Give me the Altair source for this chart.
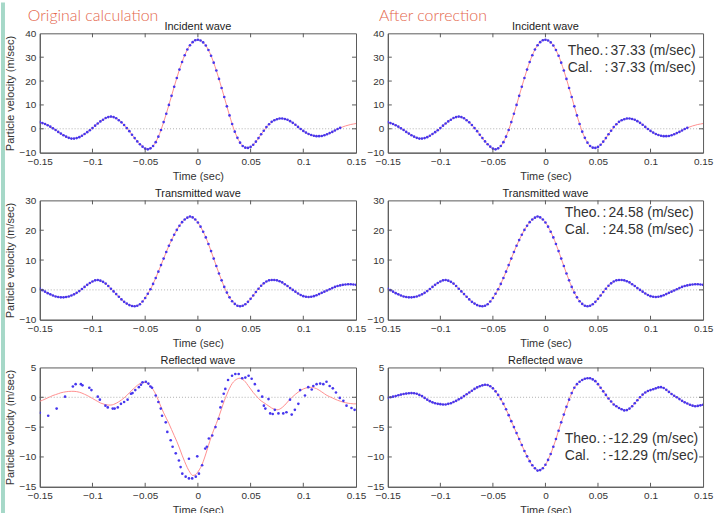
import altair as alt
import pandas as pd

# ---------------- data ----------------
TIME = [
    -0.15, -0.1475, -0.145, -0.1425, -0.14, -0.1375, -0.135, -0.1325, -0.13, -0.1275,
    -0.125, -0.1225, -0.12, -0.1175, -0.115, -0.1125, -0.11, -0.1075, -0.105, -0.1025,
    -0.1, -0.0975, -0.095, -0.0925, -0.09, -0.0875, -0.085, -0.0825, -0.08, -0.0775,
    -0.075, -0.0725, -0.07, -0.0675, -0.065, -0.0625, -0.06, -0.0575, -0.055, -0.0525,
    -0.05, -0.0475, -0.045, -0.0425, -0.04, -0.0375, -0.035, -0.0325, -0.03, -0.0275,
    -0.025, -0.0225, -0.02, -0.0175, -0.015, -0.0125, -0.01, -0.0075, -0.005, -0.0025,
    0.0, 0.0025, 0.005, 0.0075, 0.01, 0.0125, 0.015, 0.0175, 0.02, 0.0225,
    0.025, 0.0275, 0.03, 0.0325, 0.035, 0.0375, 0.04, 0.0425, 0.045, 0.0475,
    0.05, 0.0525, 0.055, 0.0575, 0.06, 0.0625, 0.065, 0.0675, 0.07, 0.0725,
    0.075, 0.0775, 0.08, 0.0825, 0.085, 0.0875, 0.09, 0.0925, 0.095, 0.0975,
    0.1, 0.1025, 0.105, 0.1075, 0.11, 0.1125, 0.115, 0.1175, 0.12, 0.1225,
    0.125, 0.1275, 0.13, 0.1325, 0.135, 0.1375, 0.14, 0.1425, 0.145, 0.1475,
    0.15,
]

INCIDENT = [
    2.8, 2.4, 2.0, 1.5, 0.9, 0.2, -0.5, -1.3, -2.0, -2.7,
    -3.3, -3.8, -4.1, -4.1, -3.9, -3.5, -2.9, -2.2, -1.4, -0.6,
    0.3, 1.3, 2.2, 3.1, 3.8, 4.5, 4.9, 5.1, 4.9, 4.4,
    3.6, 2.7, 1.6, 0.3, -1.0, -2.5, -3.9, -5.3, -6.5, -7.5,
    -8.3, -8.6, -8.2, -7.2, -5.6, -3.3, -0.5, 2.8, 6.3, 10.0,
    13.8, 17.6, 21.3, 24.8, 28.0, 30.8, 33.2, 35.0, 36.3, 37.1,
    37.33, 37.0, 36.2, 34.9, 33.0, 30.6, 27.7, 24.4, 20.9, 17.1,
    13.3, 9.4, 5.6, 2.0, -1.2, -3.8, -5.8, -7.2, -7.9, -8.0,
    -7.6, -6.7, -5.4, -3.9, -2.3, -0.8, 0.7, 1.9, 2.9, 3.6,
    4.0, 4.3, 4.3, 4.1, 3.8, 3.2, 2.5, 1.7, 0.8, -0.1,
    -0.9, -1.6, -2.2, -2.6, -2.9, -3.1, -3.1, -3.0, -2.7, -2.3,
    -1.8, -1.3, -0.7, -0.1, 0.4, 0.8, 1.2, 1.5, 1.8, 2.0,
    2.2,
]

TRANSMITTED = [
    0.4, -0.1, -0.6, -1.1, -1.5, -1.9, -2.2, -2.4, -2.5, -2.5,
    -2.4, -2.2, -1.9, -1.5, -1.0, -0.4, 0.3, 1.0, 1.7, 2.3,
    2.8, 3.2, 3.3, 3.1, 2.7, 2.1, 1.3, 0.4, -0.5, -1.4,
    -2.3, -3.2, -4.0, -4.6, -5.1, -5.4, -5.5, -5.3, -4.8, -3.9,
    -2.7, -1.3, 0.2, 2.0, 4.0, 6.1, 8.3, 10.5, 12.7, 14.8,
    16.7, 18.5, 20.1, 21.5, 22.7, 23.6, 24.2, 24.58, 24.3, 23.6,
    22.6, 21.2, 19.5, 17.6, 15.4, 13.0, 10.5, 8.0, 5.5, 3.2,
    1.0, -0.9, -2.5, -3.8, -4.7, -5.3, -5.5, -5.3, -4.8, -4.0,
    -3.0, -1.9, -0.7, 0.4, 1.4, 2.2, 2.8, 3.2, 3.3, 3.3,
    3.2, 2.9, 2.5, 1.9, 1.3, 0.6, 0.0, -0.6, -1.2, -1.7,
    -2.1, -2.3, -2.4, -2.3, -2.1, -1.8, -1.4, -1.0, -0.6, -0.2,
    0.2, 0.6, 1.0, 1.3, 1.5, 1.7, 1.8, 1.9, 1.9, 1.8,
    1.7,
]

REFLECTED_ORIG_THEO = [
    -0.67, -0.5, -0.3, -0.1, 0.1, 0.3, 0.45, 0.6, 0.75, 0.85,
    0.93, 0.98, 1.0, 1.0, 0.95, 0.85, 0.7, 0.5, 0.3, 0.05,
    -0.2, -0.45, -0.7, -0.95, -1.1, -1.25, -1.3, -1.3, -1.2, -1.0,
    -0.75, -0.45, -0.1, 0.3, 0.75, 1.2, 1.6, 2.0, 2.3, 2.45,
    2.5, 2.3, 1.9, 1.3, 0.5, -0.5, -1.6, -2.6, -3.5, -4.4,
    -5.4, -6.4, -7.4, -8.5, -9.7, -10.8, -11.8, -12.6, -13.1, -13.0,
    -12.5, -11.8, -10.8, -9.5, -8.1, -6.7, -5.5, -4.4, -3.2, -1.9,
    -0.6, 0.5, 1.5, 2.3, 2.8, 3.1, 3.2, 3.0, 2.6, 2.0,
    1.4, 0.8, 0.3, -0.2, -0.6, -0.9, -1.2, -1.5, -1.8, -2.0,
    -2.1, -2.0, -1.7, -1.3, -0.8, -0.3, 0.1, 0.5, 0.85, 1.15,
    1.4, 1.55, 1.65, 1.67, 1.6, 1.45, 1.2, 0.9, 0.6, 0.3,
    0.1, -0.1, -0.3, -0.5, -0.65, -0.8, -0.9, -1.0, -1.05, -1.1,
    -1.1,
]

REFLECTED_CORR_THEO = [
    -0.1, 0.0, 0.1, 0.2, 0.35, 0.45, 0.55, 0.62, 0.68, 0.7,
    0.68, 0.6, 0.4, 0.2, -0.1, -0.4, -0.65, -0.85, -1.0, -1.1,
    -1.15, -1.2, -1.2, -1.1, -1.0, -0.8, -0.6, -0.35, -0.1, 0.2,
    0.5, 0.8, 1.1, 1.4, 1.65, 1.85, 2.0, 2.1, 2.05, 1.85,
    1.5, 1.0, 0.4, -0.3, -1.1, -2.0, -3.0, -4.0, -5.0, -6.0,
    -7.0, -8.0, -9.0, -9.9, -10.7, -11.4, -11.9, -12.29, -12.2, -11.9,
    -11.3, -10.5, -9.5, -8.3, -7.0, -5.6, -4.2, -2.9, -1.6, -0.4,
    0.7, 1.6, 2.2, 2.6, 2.9, 3.1, 3.2, 3.2, 3.0, 2.7,
    2.2, 1.6, 1.0, 0.4, -0.2, -0.7, -1.2, -1.5, -1.8, -2.0,
    -2.2, -2.15, -1.9, -1.5, -1.0, -0.5, 0.0, 0.45, 0.8, 1.05,
    1.2, 1.35, 1.5, 1.65, 1.7, 1.55, 1.25, 0.9, 0.55, 0.25,
    0.0, -0.3, -0.6, -0.85, -1.05, -1.25, -1.4, -1.5, -1.45, -1.35,
    -1.25,
]

# original (uncorrected) calculation of the reflected wave: scattered dots
REFLECTED_ORIG_CAL_T = [
    -0.150, -0.142, -0.134, -0.126, -0.1186, -0.116, -0.111, -0.1095, -0.103, -0.101,
    -0.095, -0.093, -0.0877, -0.0855, -0.0808, -0.079, -0.076, -0.073, -0.070, -0.0667,
    -0.0635, -0.062, -0.0594, -0.056, -0.054, -0.0525, -0.0494, -0.047, -0.045, -0.0435,
    -0.040, -0.0375, -0.0352, -0.034, -0.0305, -0.029, -0.0258, -0.024, -0.021, -0.018,
    -0.0164, -0.0148, -0.0116, -0.0085, -0.0085, -0.0054, -0.002, -0.0006, 0.001, 0.004,
    0.007, 0.0085, 0.0104, 0.0136, 0.0167, 0.0198, 0.0214, 0.023, 0.0245, 0.026,
    0.0286, 0.0324, 0.0355, 0.0387, 0.042, 0.045, 0.0481, 0.051, 0.054, 0.0575,
    0.061, 0.0626, 0.064, 0.067, 0.0686, 0.071, 0.073, 0.0764, 0.081, 0.084,
    0.0874, 0.089, 0.092, 0.0953, 0.097, 0.1016, 0.1047, 0.108, 0.1095, 0.1126,
    0.116, 0.119, 0.122, 0.125, 0.128, 0.131, 0.1346, 0.138, 0.141, 0.1457,
    0.1487,
]
REFLECTED_ORIG_CAL_V = [
    -2.6, -3.1, -1.9, 0.1, 1.8, 2.2, 2.2, 2.0, 1.6, 1.2,
    0.1, -0.4, -1.4, -1.7, -1.9, -1.9, -1.7, -1.1, -0.8, -0.4,
    0.6, 0.7, 1.2, 1.7, 2.1, 2.5, 2.6, 2.3, 1.8, 1.6,
    0.3, -0.8, -1.9, -3.1, -4.2, -5.8, -7.2, -8.3, -9.4, -10.6,
    -11.7, -12.8, -13.3, -10.3, -13.6, -13.6, -13.3, -9.9, -12.8, -11.4,
    -8.6, -8.3, -6.9, -6.4, -5.0, -3.6, -1.7, -0.7, 0.6, 1.4,
    2.9, 3.6, 3.9, 3.9, 3.2, 3.3, 3.6, 3.1, 2.2, 1.1,
    0.1, -1.4, -1.9, -0.3, -2.7, -2.8, -2.1, -2.7, -2.7, -2.5,
    -0.4, -2.9, -2.1, -1.1, 1.2, 0.3, 1.7, 1.3, 1.9, 2.2,
    2.3, 2.2, 2.6, 1.9, 1.5, 0.8, -0.1, -0.6, -1.4, -1.8,
    -2.1,
]

X_TICKS = [-0.15, -0.1, -0.05, 0, 0.05, 0.1, 0.15]
X_INNER_TICKS = [-0.1, -0.05, 0, 0.05, 0.1]
Y_TICKS = [[-10, 0, 10, 20, 30, 40], [-10, 0, 10, 20, 30], [-15, -10, -5, 0, 5]]
Y_DOMAINS = [[-10, 40], [-10, 30], [-15, 5]]
PANEL_TITLES = ["Incident wave", "Transmitted wave", "Reflected wave"]
COLUMN_TITLES = ["Original calculation", "After correction"]
PEAK_VALUES = ["37.33", "24.58", "-12.29"]
ANNOT_LABELS = ["Theo.", "Cal."]

# ---------------- styling / layout ----------------
W_LEFT, W_RIGHT, H = 318, 317, 120
LINE_COLOR = "#ff8f8f"
DOT_COLOR = "#4636ee"
FRAME = "#5a5a5a"
TXT = "#333333"
FONT = "Liberation Sans"
HEAD_FONT = "Lato"
# annotation placement (pixels inside the plot area) per row:
# (x of label, x of colon, x of value, y of first line)
ANNOT_POS = [(181, 218, 224, 18), (178, 216, 222, 13), (178, 216, 222, 72)]
LINE_GAP = 17


def text_layer(txt, x, y, size, color, font, align="left", baseline="middle", weight="normal"):
    return alt.Chart(pd.DataFrame({"label": [txt]})).mark_text(
        align=align, baseline=baseline, fontSize=size, font=font, color=color,
        fontWeight=weight
    ).encode(x=alt.value(x), y=alt.value(y), text="label:N")


def panel(row, left, theo, cal_t, cal_v):
    w = W_LEFT if left else W_RIGHT
    xs = alt.Scale(domain=[-0.15, 0.15], nice=False, zero=False)
    ys = alt.Scale(domain=Y_DOMAINS[row], nice=False, zero=False)
    x_enc = alt.X("t:Q", scale=xs, axis=alt.Axis(
        values=X_TICKS, title="Time (sec)",
        labelExpr="format(datum.value, '~g')",
        labelFlush=False, labelOverlap=False))
    y_enc = alt.Y("v:Q", scale=ys, axis=alt.Axis(
        values=Y_TICKS[row],
        title="Particle velocity (m/sec)" if left else "",
        labelOverlap=False))

    theo_df = pd.DataFrame({"t": TIME, "v": theo})
    cal_df = pd.DataFrame({"t": cal_t, "v": cal_v})

    zero = alt.Chart(pd.DataFrame({"v": [0]})).mark_rule(
        color="#b0b0b0", strokeDash=[1, 2], strokeWidth=1
    ).encode(y=y_enc)

    line = alt.Chart(theo_df).mark_line(
        color=LINE_COLOR, strokeWidth=1, interpolate="monotone", clip=True
    ).encode(x=x_enc, y=y_enc)

    dots = alt.Chart(cal_df).mark_circle(
        color=DOT_COLOR, size=7, opacity=1, clip=True
    ).encode(x=x_enc, y=y_enc)

    xt = pd.DataFrame({"t": X_INNER_TICKS})
    yt = pd.DataFrame({"v": Y_TICKS[row][1:-1]})
    tick_b = alt.Chart(xt).mark_rule(color=FRAME, strokeWidth=1).encode(
        x=x_enc, y=alt.value(H), y2=alt.value(H - 4))
    tick_t = alt.Chart(xt).mark_rule(color=FRAME, strokeWidth=1).encode(
        x=x_enc, y=alt.value(0), y2=alt.value(4))
    tick_l = alt.Chart(yt).mark_rule(color=FRAME, strokeWidth=1).encode(
        y=y_enc, x=alt.value(0), x2=alt.value(4))
    tick_r = alt.Chart(yt).mark_rule(color=FRAME, strokeWidth=1).encode(
        y=y_enc, x=alt.value(w), x2=alt.value(w - 4))

    layers = [zero, line, dots, tick_b, tick_t, tick_l, tick_r]

    # panel title
    layers.append(text_layer(PANEL_TITLES[row], w / 2, -3, 11, "#222", FONT,
                             align="center", baseline="alphabetic"))

    if left:
        strip = alt.Chart(pd.DataFrame({"k": [0]})).mark_rect(
            color="#a6d8c8").encode(
            x=alt.value(-39), x2=alt.value(-35),
            y=alt.value(-31), y2=alt.value(H + 50))
        layers.append(strip)

    if row == 0:
        layers.append(text_layer(COLUMN_TITLES[0 if left else 1],
                                 -12 if left else -9, -17, 16, "#e4664c", HEAD_FONT,
                                 weight=300))

    if not left:
        xl, xc, xv, y0 = ANNOT_POS[row]
        for i, lab in enumerate(ANNOT_LABELS):
            yy = y0 + i * LINE_GAP
            layers.append(text_layer(lab, xl, yy, 14, TXT, FONT))
            layers.append(text_layer(":", xc, yy, 14, TXT, FONT))
            layers.append(text_layer(PEAK_VALUES[row] + " (m/sec)", xv, yy, 14, TXT, FONT))

    return alt.layer(*layers).properties(width=w, height=H)


panels = [
    panel(0, True, INCIDENT, TIME[:115], INCIDENT[:115]),
    panel(0, False, INCIDENT, TIME[:115], INCIDENT[:115]),
    panel(1, True, TRANSMITTED, TIME, TRANSMITTED),
    panel(1, False, TRANSMITTED, TIME, TRANSMITTED),
    panel(2, True, REFLECTED_ORIG_THEO, REFLECTED_ORIG_CAL_T, REFLECTED_ORIG_CAL_V),
    panel(2, False, REFLECTED_CORR_THEO, TIME, REFLECTED_CORR_THEO),
]

chart = alt.concat(
    *panels, columns=2, spacing={"row": 48, "column": 32}, bounds="flush"
).properties(
    padding={"left": 0, "top": 0, "right": 0, "bottom": 0},
    background="white",
).configure_view(
    stroke=FRAME, strokeWidth=1
).configure_axis(
    grid=False, ticks=False, domainColor=FRAME, domainWidth=1,
    labelFont=FONT, labelFontSize=10, labelColor=TXT, labelPadding=4,
    titleFont=FONT, titleFontSize=11, titleFontWeight="normal", titleColor=TXT,
).configure_axisX(titlePadding=4).configure_axisY(titlePadding=3)

chart.save("out.html", embed_options={"renderer": "svg", "actions": False})
